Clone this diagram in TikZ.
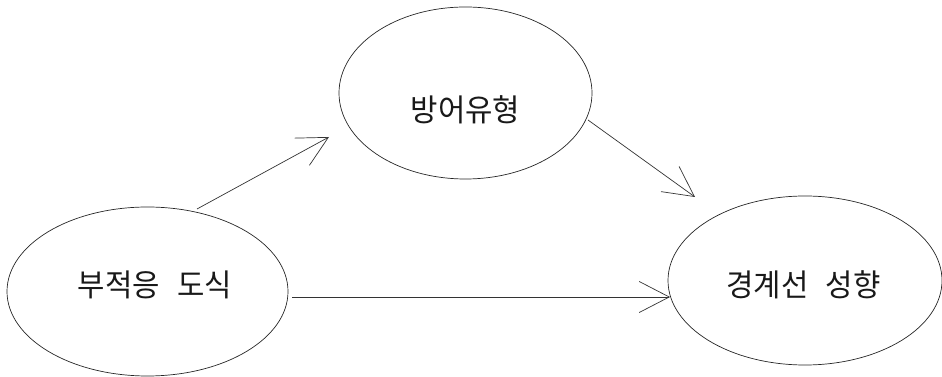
\documentclass[tikz,border=0pt]{standalone}
\usepackage{fontspec}
\usepackage{graphicx}
\newfontfamily\kr{Noto Sans CJK KR}
\usetikzlibrary{arrows.meta,shapes.geometric}
\newcommand\krtext[1]{\scalebox{0.96}[1]{\kr\fontsize{31}{36}\selectfont #1}}
\tikzset{
  bubble/.style={draw=black!85, line width=0.7pt, ellipse, inner sep=0pt, outer sep=0pt},
  lbl/.style={text=black!90, inner sep=0pt},
  conn/.style={draw=black!80, line width=0.7pt, -{Straight Barb[length=30pt,width=31pt,line width=0.7pt]}},
}
\begin{document}
\begin{tikzpicture}[x=1pt,y=1pt]
\useasboundingbox (0,0) rectangle (942,377);
\node[bubble, minimum width=281pt, minimum height=169pt] (e1) at (147.5,85.5) {};
\node[bubble, minimum width=253pt, minimum height=172pt] (e2) at (465.5,284) {};
\node[bubble, minimum width=274pt, minimum height=169pt] (e3) at (805,96.5) {};
\node[lbl] (t1) at (155,92.5) {\krtext{부적응\hspace{18pt}도식}};
\node[lbl] (t2) at (465.5,267.5) {\krtext{방어유형}};
\node[lbl] (t3) at (803.5,92) {\krtext{경계선\hspace{18pt}성향}};
\coordinate (a1s) at (197,168);
\coordinate (a1e) at (329,240);
\coordinate (a2s) at (588,257);
\coordinate (a2e) at (695,180);
\coordinate (a3s) at (292,80);
\coordinate (a3e) at (670,80);
\draw[conn] (a1s) -- (a1e);
\draw[conn] (a2s) -- (a2e);
\draw[conn] (a3s) -- (a3e);
\end{tikzpicture}
\end{document}
